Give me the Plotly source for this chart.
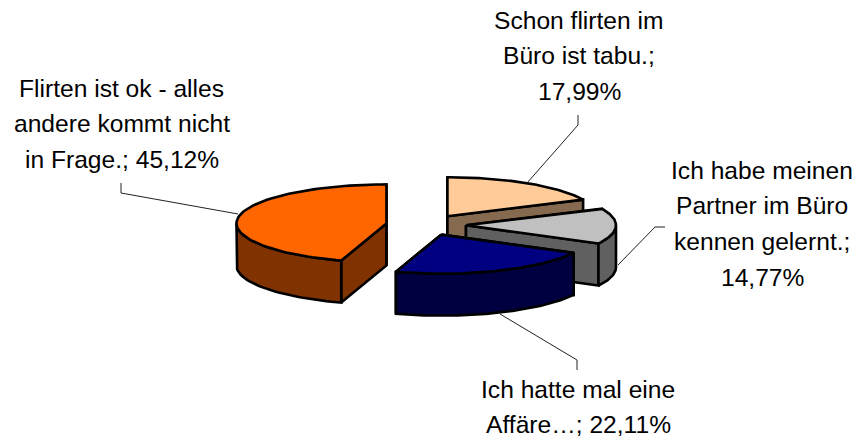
import math
import plotly.graph_objects as go

labels = ["Schon flirten im Büro ist tabu.", "Ich habe meinen Partner im Büro kennen gelernt.",
          "Ich hatte mal eine Affäre…", "Flirten ist ok - alles andere kommt nicht in Frage."]
values = [17.99, 14.77, 22.11, 45.12]
top_colors = ["#FFCC99", "#C0C0C0", "#000080", "#FF6600"]
wall_colors = ["#866A4F", "#606060", "#000040", "#803300"]
label_lines = [
    ["Schon flirten im", "Büro ist tabu.;", "17,99%"],
    ["Ich habe meinen", "Partner im Büro", "kennen gelernt.;", "14,77%"],
    ["Ich hatte mal eine", "Affäre…; 22,11%"],
    ["Flirten ist ok - alles", "andere kommt nicht", "in Frage.; 45,12%"],
]
label_x = [579, 762, 578, 121.5]
label_y = [20, 170, 389, 88]
line_step = 35.7
leader_x = [[578, 578, 527], [665, 655, 618], [577, 577, 500], [121, 121, 238]]
leader_y = [[115, 125, 183], [227, 227, 265], [370, 360, 314], [183, 193, 214]]

CX, CY, A, B, DEPTH, EXPLODE = 426, 225, 150, 39, 42, 40


def pt(ax, ay, t):
    return ax + A * math.sin(t), ay - B * math.cos(t)


fig = go.Figure()


def poly(xs, ys, color):
    fig.add_trace(go.Scatter(x=xs, y=ys, mode="lines", fill="toself", fillcolor=color,
                             line=dict(color="black", width=2.6), hoverinfo="skip",
                             showlegend=False))


total = sum(values)
start = 0.0
for v, top, wall in zip(values, top_colors, wall_colors):
    t0 = start / total * 2 * math.pi
    t1 = (start + v) / total * 2 * math.pi
    start += v
    mid = (t0 + t1) / 2
    ax = CX + EXPLODE * math.sin(mid)
    ay = CY - EXPLODE * math.cos(mid) * B / A
    n = 80
    ts = [t0 + (t1 - t0) * i / n for i in range(n + 1)]
    arc = [pt(ax, ay, t) for t in ts]
    # side faces at both radial cuts
    for t in (t0, t1):
        x, y = pt(ax, ay, t)
        poly([ax, x, x, ax, ax], [ay, y, y + DEPTH, ay + DEPTH, ay], wall)
    # outer rim, visible part only
    vis = [p for p, t in zip(arc, ts) if math.pi / 2 <= t <= 3 * math.pi / 2]
    if t0 < math.pi / 2 < t1:
        vis = [pt(ax, ay, math.pi / 2)] + vis
    if t0 < 3 * math.pi / 2 < t1:
        vis = vis + [pt(ax, ay, 3 * math.pi / 2)]
    if vis:
        rx = [p[0] for p in vis] + [p[0] for p in reversed(vis)]
        ry = [p[1] for p in vis] + [p[1] + DEPTH for p in reversed(vis)]
        poly(rx + rx[:1], ry + ry[:1], wall)
    # top face
    poly([ax] + [p[0] for p in arc] + [ax], [ay] + [p[1] for p in arc] + [ay], top)

for xs, ys in zip(leader_x, leader_y):
    fig.add_trace(go.Scatter(x=xs, y=ys, mode="lines", line=dict(color="#222222", width=1),
                             hoverinfo="skip", showlegend=False))

for lines, lx, ly in zip(label_lines, label_x, label_y):
    for i, s in enumerate(lines):
        fig.add_annotation(x=lx, y=ly + i * line_step, text=s, showarrow=False,
                           xanchor="center", yanchor="middle",
                           font=dict(family="Liberation Sans, Arial", size=24.6, color="black"))

fig.update_layout(width=856, height=439, margin=dict(l=0, r=0, t=0, b=0),
                  paper_bgcolor="white", plot_bgcolor="white", showlegend=False,
                  xaxis=dict(range=[0, 856], visible=False, fixedrange=True),
                  yaxis=dict(range=[439, 0], visible=False, fixedrange=True))
fig.write_html("out.html", config={"displayModeBar": False},
               post_script="document.body.style.margin='0';document.body.style.overflow='hidden';")
